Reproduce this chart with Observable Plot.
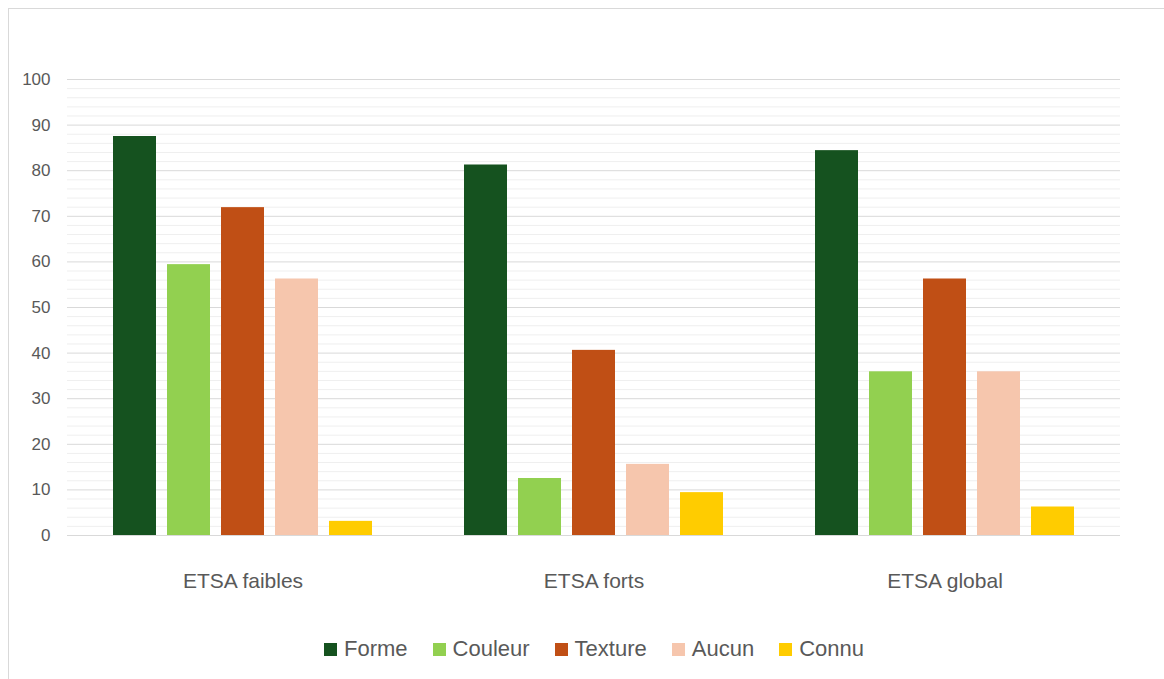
<!DOCTYPE html>
<html><head><meta charset="utf-8">
<script src="https://cdn.jsdelivr.net/npm/d3@7"></script>
<script src="https://cdn.jsdelivr.net/npm/@observablehq/plot@0.6"></script>
<style>
body{margin:0;background:#fff;font-family:"Liberation Sans",Arial,sans-serif;width:1164px;height:679px;overflow:hidden;position:relative;}
#frame{position:absolute;left:8px;top:8px;width:1160px;height:680px;border-left:1.5px solid #d9d9d9;border-top:1.5px solid #d9d9d9;}
#chart{position:absolute;left:0;top:0;}
#legend{position:absolute;top:636px;left:12px;width:1164px;display:flex;justify-content:center;gap:25px;font-size:22px;line-height:26px;color:#595959;}
#legend .item{display:flex;align-items:center;}
#legend .sw{width:13px;height:13px;margin-right:7px;display:inline-block;}
</style>
</head><body>
<div id="frame"></div>
<div id="chart"></div>
<div id="legend"></div>
<script>
const groups = ["ETSA faibles", "ETSA forts", "ETSA global"];
const categories = ["Forme", "Couleur", "Texture", "Aucun", "Connu"];
const forme   = [87.5, 81.25, 84.4];
const couleur = [59.4, 12.5, 35.9];
const texture = [71.9, 40.6, 56.25];
const aucun   = [56.25, 15.6, 35.9];
const connu   = [3.1, 9.4, 6.25];
const colors = ["#15521f", "#92d050", "#c04f15", "#f6c6ad", "#ffcc00"];
const yTicks = [0, 10, 20, 30, 40, 50, 60, 70, 80, 90, 100];
const minorTicks = [2,4,6,8,12,14,16,18,22,24,26,28,32,34,36,38,42,44,46,48,52,54,56,58,62,64,66,68,72,74,76,78,82,84,86,88,92,94,96,98];

const series = [forme, couleur, texture, aucun, connu];
const data = [];
groups.forEach((g, gi) => categories.forEach((c, ci) => data.push({group: g, cat: c, value: series[ci][gi]})));

const chart = Plot.plot({
  width: 1164,
  height: 600,
  marginTop: 79,
  marginBottom: 65,
  marginLeft: 67,
  marginRight: 44,
  style: {fontFamily: '"Liberation Sans", Arial, sans-serif', color: "#595959", background: "transparent", overflow: "visible"},
  fx: {domain: groups, padding: 0, label: null},
  x: {domain: categories, paddingInner: 0.2, paddingOuter: 0.82, axis: null},
  y: {domain: [0, 100], label: null},
  color: {domain: categories, range: colors},
  marks: [
    Plot.ruleY(minorTicks, {stroke: "#efefef", strokeWidth: 1}),
    Plot.ruleY(yTicks, {stroke: "#d9d9d9", strokeWidth: 1}),
    Plot.barY(data, {fx: "group", x: "cat", y: "value", fill: "cat"}),
    Plot.axisY({ticks: yTicks, tickSize: 0, tickPadding: 17, fontSize: 17, label: null}),
    Plot.axisFx({anchor: "bottom", tickSize: 0, tickPadding: 38, fontSize: 21, label: null})
  ]
});
document.getElementById("chart").appendChild(chart);

const legend = document.getElementById("legend");
categories.forEach((c, i) => {
  const item = document.createElement("div");
  item.className = "item";
  const sw = document.createElement("span");
  sw.className = "sw";
  sw.style.background = colors[i];
  const t = document.createElement("span");
  t.textContent = c;
  item.appendChild(sw);
  item.appendChild(t);
  legend.appendChild(item);
});
</script>
</body></html>
